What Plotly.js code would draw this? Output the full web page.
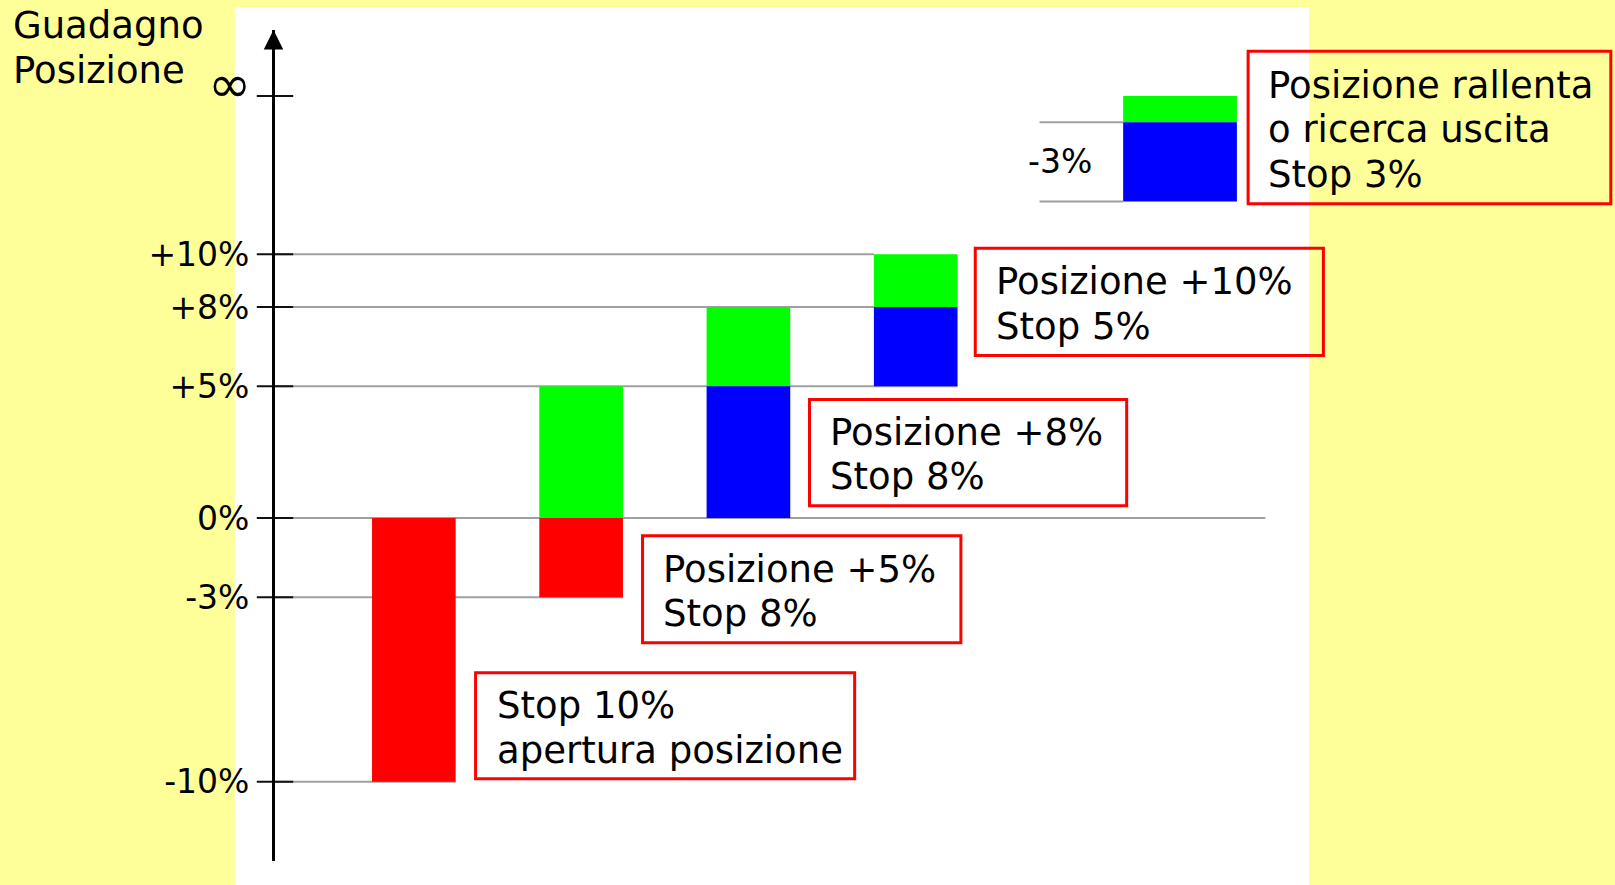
<!DOCTYPE html>
<html><head><meta charset="utf-8">
<script src="https://cdn.plot.ly/plotly-3.0.1.min.js"></script>
<style>html,body{margin:0;padding:0;background:#FFFF99;} #chart{width:1615px;height:885px;}</style>
</head><body><div id="chart"></div>
<script>
// ---- data ----
const tickValues = [16, 10, 8, 5, 0, -3, -10];
const tickLabels = ['', '+10%', '+8%', '+5%', '0%', '-3%', '-10%'];
const infinityLevel = 16;
const infinityLabel = '∞';

const redX = [1, 2];
const redBase = [0, 0];
const redValue = [-10, -3];
const redWidth = [0.5, 0.5];

const greenX = [2, 3, 4, 5.58];
const greenBase = [0, 5, 8, 15];
const greenValue = [5, 3, 2, 1];
const greenWidth = [0.5, 0.5, 0.5, 0.68];

const blueX = [3, 4, 5.58];
const blueBase = [0, 5, 12];
const blueValue = [5, 3, 3];
const blueWidth = [0.5, 0.5, 0.68];

const guideLevels = [10, 8, 5, 0, -3, -10];
const guideEnds = [3.75, 3.75, 4.25, 6.09, 2.25, 1.25];
const topGuideLevels = [15, 12];
const topGuideStart = 4.74;
const topGuideEnd = 5.24;
const topGuideLabel = '-3%';

const yTitleLines = ['Guadagno', 'Posizione'];

const calloutTexts = [
  ['Stop 10%', 'apertura posizione'],
  ['Posizione +5%', 'Stop 8%'],
  ['Posizione +8%', 'Stop 8%'],
  ['Posizione +10%', 'Stop 5%'],
  ['Posizione rallenta', 'o ricerca uscita', 'Stop 3%']
];

// ---- layout helpers ----
const xRange = [0.17, 8.18];
const yRange = [-13, 18.5];
const FONT = 'DejaVu Sans, Verdana, sans-serif';
const LINE_GAP = 44.5; // px between text lines

// callout boxes: [x0, x1, yTop, yBottom, textX, textY]
const calloutBoxes = [
  [1.369, 3.635, -5.863, -9.886, 1.487, -7.95],
  [2.367, 4.270, -0.667, -4.729, 2.478, -2.78],
  [3.365, 5.261, 4.49, 0.466, 3.476, 2.40],
  [4.356, 6.437, 10.23, 6.166, 4.467, 8.12],
  [5.987, 8.155, 17.69, 11.91, 6.093, 14.72]
];

const traces = [
  {type:'bar', x:redX, base:redBase, y:redValue, width:redWidth,
   marker:{color:'#FF0000', line:{width:0}}, hoverinfo:'skip'},
  {type:'bar', x:greenX, base:greenBase, y:greenValue, width:greenWidth,
   marker:{color:'#00FF00', line:{width:0}}, hoverinfo:'skip'},
  {type:'bar', x:blueX, base:blueBase, y:blueValue, width:blueWidth,
   marker:{color:'#0000FF', line:{width:0}}, hoverinfo:'skip'},
  {type:'scatter', mode:'markers', x:tickValues.map(() => xRange[0]), y:tickValues,
   marker:{symbol:'line-ew', size:26, line:{width:2, color:'#111'}},
   cliponaxis:false, hoverinfo:'skip'}
];

const shapes = [
  {type:'rect', xref:'paper', yref:'paper', x0:(234.8-275)/1340, x1:(1309-275)/1340,
   y0:-0.06, y1:(861-7.2)/831, fillcolor:'#FFFFFF', line:{width:0}, layer:'below'}
];
guideLevels.forEach((lv, i) => {
  shapes.push({type:'line', xref:'x', yref:'y', x0:xRange[0], x1:guideEnds[i], y0:lv, y1:lv,
    line:{color:'#A0A0A0', width:2}, layer:'below'});
});
topGuideLevels.forEach(lv => {
  shapes.push({type:'line', xref:'x', yref:'y', x0:topGuideStart, x1:topGuideEnd, y0:lv, y1:lv,
    line:{color:'#A0A0A0', width:2}, layer:'below'});
});
calloutBoxes.forEach(b => {
  shapes.push({type:'rect', xref:'x', yref:'y', x0:b[0], x1:b[1], y0:b[3], y1:b[2],
    line:{color:'#FF0000', width:3}, fillcolor:'rgba(0,0,0,0)', layer:'above'});
});

const annotations = [];
calloutTexts.forEach((lines, i) => {
  const n = lines.length;
  lines.forEach((t, k) => {
    annotations.push({x:calloutBoxes[i][4], y:calloutBoxes[i][5], xref:'x', yref:'y', text:t,
      yshift:((n-1)/2 - k)*LINE_GAP,
      showarrow:false, xanchor:'left', yanchor:'middle', align:'left',
      font:{family:FONT, size:37, color:'#000'}});
  });
});
// y-axis title (two lines, top-left corner)
yTitleLines.forEach((t, k) => {
  annotations.push({x:(11-275)/1340, y:(861-48)/831, xref:'paper', yref:'paper', text:t,
    yshift:(0.5 - k)*LINE_GAP, showarrow:false, xanchor:'left', yanchor:'middle', align:'left',
    font:{family:FONT, size:37, color:'#000'}});
});
annotations.push({x:4.86, y:(topGuideLevels[0]+topGuideLevels[1])/2, xref:'x', yref:'y',
  text:topGuideLabel, showarrow:false, xanchor:'center', yanchor:'middle',
  font:{family:FONT, size:33, color:'#000'}});
annotations.push({x:xRange[0], y:infinityLevel, xref:'x', yref:'y', text:infinityLabel,
  showarrow:false, xanchor:'right', yanchor:'middle', xshift:-22, yshift:12,
  font:{family:FONT, size:52, color:'#000'}});
// axis arrow
annotations.push({x:xRange[0], y:yRange[1], xref:'x', yref:'y', text:'', showarrow:true,
  ax:0, ay:40, axref:'pixel', ayref:'pixel', arrowhead:2, arrowsize:1.3, arrowwidth:3,
  arrowcolor:'#000', standoff:0, xshift:-1.5});

const layout = {
  width:1615, height:885,
  paper_bgcolor:'#FFFF99', plot_bgcolor:'rgba(0,0,0,0)',
  margin:{l:275, r:0, t:30, b:24, pad:0},
  showlegend:false, barmode:'overlay',
  xaxis:{range:xRange, visible:false, fixedrange:true},
  yaxis:{range:yRange, tickvals:tickValues, ticktext:tickLabels, ticks:'', showgrid:false,
    zeroline:false, showline:true, linecolor:'#000', linewidth:3, ticklabelstandoff:16,
    tickfont:{family:FONT, size:33, color:'#000'}, fixedrange:true},
  shapes:shapes, annotations:annotations
};

Plotly.newPlot('chart', traces, layout, {staticPlot:true, displayModeBar:false});
</script>
</body></html>
